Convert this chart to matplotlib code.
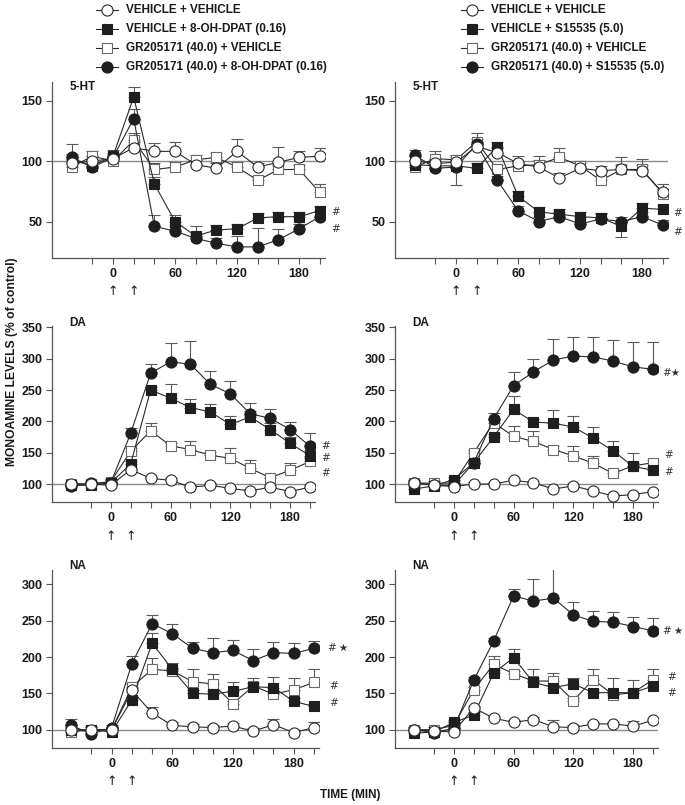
import matplotlib
matplotlib.use('Agg')
import matplotlib.pyplot as plt

plt.rcParams['font.family'] = ['Liberation Sans', 'DejaVu Sans']
plt.rcParams['font.weight'] = 'bold'

W, H = 685, 805
fig = plt.figure(figsize=(W / 100, H / 100), dpi=100)


def rect(l, t, w, h):
    return [l / W, 1 - (t + h) / H, w / W, h / H]


# ---------------- data ----------------
TIME = [-40, -20, 0, 20, 40, 60, 80, 100, 120, 140, 160, 180, 200]

LEGEND_LEFT = ['VEHICLE + VEHICLE', 'VEHICLE + 8-OH-DPAT (0.16)',
               'GR205171 (40.0) + VEHICLE', 'GR205171 (40.0) + 8-OH-DPAT (0.16)']
LEGEND_RIGHT = ['VEHICLE + VEHICLE', 'VEHICLE + S15535 (5.0)',
                'GR205171 (40.0) + VEHICLE', 'GR205171 (40.0) + S15535 (5.0)']

# 5-HT, left (8-OH-DPAT)
HT_L_VV = [98, 100, 102, 111, 108, 108, 97, 94, 108, 95, 99, 103, 104]
HT_L_VV_ERR = [4, 4, 4, 5, 7, 8, 4, 4, 10, 3, 13, 5, 7]
HT_L_AG = [101, 96, 104, 153, 81, 50, 38, 43, 44, 53, 54, 54, 59]
HT_L_AG_ERR = [5, 5, 5, 8, 6, 5, 8, 4, 4, 4, 4, 4, 4]
HT_L_GR = [95, 104, 100, 117, 93, 95, 101, 103, 95, 84, 93, 93, 74]
HT_L_GR_ERR = [4, 4, 4, 6, 5, 4, 4, 4, 4, 4, 4, 4, 7]
HT_L_CO = [103, 95, 103, 135, 46, 42, 36, 32, 29, 29, 35, 44, 54]
HT_L_CO_ERR = [11, 4, 4, 8, 9, 4, 4, 4, 9, 16, 9, 4, 4]

# 5-HT, right (S15535)
HT_R_VV = [100, 98, 99, 112, 107, 98, 95, 86, 94, 92, 93, 92, 74]
HT_R_VV_ERR = [4, 4, 4, 4, 4, 6, 9, 4, 4, 4, 10, 10, 7]
HT_R_AG = [97, 96, 96, 94, 112, 71, 58, 56, 54, 53, 46, 61, 60]
HT_R_AG_ERR = [4, 4, 4, 4, 4, 4, 4, 4, 4, 4, 4, 4, 4]
HT_R_AG_ERR_DN = [0, 0, 16, 0, 0, 0, 0, 0, 0, 0, 9, 0, 0]
HT_R_GR = [95, 102, 101, 116, 93, 96, 97, 103, 96, 84, 93, 93, 73]
HT_R_GR_ERR = [4, 6, 4, 7, 4, 4, 4, 8, 4, 4, 4, 4, 4]
HT_R_CO = [105, 94, 95, 114, 84, 59, 50, 54, 48, 52, 50, 54, 47]
HT_R_CO_ERR = [4, 4, 4, 4, 4, 4, 4, 4, 4, 4, 4, 4, 4]

# DA, left
DA_L_VV = [100, 100, 98, 123, 109, 106, 95, 98, 93, 89, 95, 88, 95]
DA_L_VV_ERR = [3, 3, 3, 3, 3, 3, 3, 3, 3, 3, 3, 3, 3]
DA_L_AG = [98, 98, 102, 132, 250, 237, 222, 215, 195, 207, 187, 165, 145]
DA_L_AG_ERR = [5, 5, 5, 5, 5, 22, 14, 12, 13, 10, 10, 10, 10]
DA_L_GR = [100, 100, 104, 152, 185, 161, 155, 146, 141, 125, 110, 122, 136]
DA_L_GR_ERR = [4, 4, 4, 5, 12, 5, 13, 5, 17, 14, 5, 12, 5]
DA_L_CO = [97, 101, 102, 181, 277, 295, 291, 259, 244, 212, 205, 187, 160]
DA_L_CO_ERR = [4, 4, 4, 9, 14, 30, 38, 22, 21, 18, 14, 12, 21]

# DA, right
DA_R_VV = [102, 98, 96, 100, 100, 106, 102, 92, 97, 89, 81, 83, 88]
DA_R_VV_ERR = [3, 3, 3, 3, 3, 3, 3, 3, 3, 3, 3, 3, 3]
DA_R_AG = [92, 97, 107, 134, 175, 219, 199, 197, 191, 173, 153, 128, 122]
DA_R_AG_ERR = [5, 5, 5, 5, 5, 22, 5, 21, 18, 18, 16, 21, 5]
DA_R_GR = [102, 101, 102, 150, 198, 176, 168, 155, 145, 133, 117, 129, 134]
DA_R_GR_ERR = [4, 4, 4, 5, 5, 17, 17, 5, 16, 11, 5, 5, 5]
DA_R_CO = [102, 98, 98, 134, 204, 257, 279, 298, 304, 303, 296, 287, 283]
DA_R_CO_ERR = [4, 4, 4, 5, 10, 21, 20, 33, 30, 31, 34, 39, 43]

# NA, left
NA_L_VV = [99, 100, 100, 154, 123, 106, 104, 103, 105, 98, 107, 96, 103]
NA_L_VV_ERR = [4, 4, 4, 4, 8, 4, 4, 4, 4, 4, 8, 4, 8]
NA_L_AG = [100, 100, 97, 141, 219, 183, 150, 149, 153, 159, 158, 139, 132]
NA_L_AG_ERR = [4, 4, 4, 4, 14, 9, 4, 4, 13, 12, 15, 4, 4]
NA_L_GR = [97, 100, 100, 159, 183, 181, 166, 163, 136, 160, 149, 155, 165]
NA_L_GR_ERR = [4, 4, 4, 4, 15, 4, 17, 14, 4, 4, 4, 16, 18]
NA_L_CO = [106, 94, 103, 191, 246, 232, 212, 206, 209, 195, 206, 205, 212]
NA_L_CO_ERR = [9, 4, 4, 10, 12, 13, 9, 20, 15, 16, 15, 14, 10]

# NA, right
NA_R_VV = [100, 98, 97, 130, 116, 110, 114, 104, 103, 108, 108, 105, 113]
NA_R_VV_ERR = [3, 3, 3, 3, 3, 3, 3, 10, 3, 3, 3, 7, 3]
NA_R_AG = [95, 97, 110, 120, 178, 199, 165, 158, 163, 151, 151, 151, 160]
NA_R_AG_ERR = [4, 4, 4, 4, 4, 12, 18, 4, 8, 4, 20, 17, 4]
NA_R_GR = [100, 100, 106, 155, 190, 177, 167, 167, 140, 169, 148, 151, 169]
NA_R_GR_ERR = [4, 4, 4, 4, 11, 4, 4, 11, 4, 14, 4, 4, 14]
NA_R_CO = [100, 96, 102, 168, 222, 284, 277, 281, 258, 249, 248, 242, 236]
NA_R_CO_ERR = [4, 4, 4, 4, 4, 10, 31, 44, 18, 15, 14, 13, 18]

# significance marks (x, y, text) in data units
HT_L_MARKS = [(211, 58, '#'), (211, 44, '#')]
HT_R_MARKS = [(210, 57, '#'), (210, 41, '#')]
DA_L_MARKS = [(211, 161, '#'), (211, 142, '#'), (211, 118, '#')]
DA_R_MARKS = [(209, 277, '#\u2605'), (211, 146, '#'), (211, 119, '#')]
NA_L_MARKS = [(214, 212, '#\u2009\u2605'), (215, 160, '#'), (215, 137, '#')]
NA_R_MARKS = [(210, 236, '#\u2009\u2605'), (214, 172, '#'), (214, 151, '#')]

# ---------------- styles ----------------
DARK = '#1e1e1e'
STY = {
    'vv': dict(marker='o', mfc='white', mec='#2a2a2a', ms=8.0),
    'ag': dict(marker='s', mfc=DARK, mec=DARK, ms=7.4),
    'gr': dict(marker='s', mfc='white', mec='#6a6a6a', ms=7.4),
    'co': dict(marker='o', mfc=DARK, mec=DARK, ms=8.0),
}
ORDER = ['gr', 'ag', 'co', 'vv']
TICK_FS = 9
TXT = '#1a1a1a'


def panel(r, ylim, yticks, label, series, marks, label_y):
    ax = fig.add_axes(rect(*r))
    ax.set_xlim(-59, 205)
    ax.set_ylim(*ylim)
    ax.axhline(100, color='#8a8a8a', lw=1.0, zorder=0)
    for key in ORDER:
        vals, up, dn = series[key]
        ax.errorbar(TIME, vals, yerr=[dn, up], fmt='none', ecolor='#5a5a5a',
                    elinewidth=0.8, capsize=4.5, capthick=0.8, zorder=1)
    for z, key in enumerate(ORDER):
        vals = series[key][0]
        ax.plot(TIME, vals, color='#2a2a2a', lw=0.8, mew=0.8, zorder=2 + z,
                **STY[key])
    for s in ('top', 'right'):
        ax.spines[s].set_visible(False)
    for s in ('left', 'bottom'):
        ax.spines[s].set_color('#555555')
        ax.spines[s].set_linewidth(0.9)
    xt = list(range(-20, 201, 20))
    ax.set_xticks(xt)
    ax.set_xticklabels([str(t) if t in (0, 60, 120, 180) else '' for t in xt])
    ax.set_yticks(yticks)
    ax.tick_params(direction='out', length=4, width=0.8, color='#555555',
                   labelsize=TICK_FS, labelcolor=TXT, pad=3)
    for lab in ax.get_xticklabels() + ax.get_yticklabels():
        lab.set_fontweight('bold')
    ax.text(0.065, label_y, label, transform=ax.transAxes, fontsize=8.5,
            fontweight='bold', color=TXT, va='center', ha='left')
    for x, y, t in marks:
        ax.text(x, y, t, fontsize=7.5, fontweight='normal', color='#333333',
                va='center', ha='left', family=['DejaVu Sans'], fontstyle='italic')
    # injection arrows at 0 and 20 min
    for t in (0, 20):
        ax.annotate('\u2191', xy=(t, 0), xycoords=('data', 'axes fraction'),
                    xytext=(0, -34), textcoords='offset pixels', ha='center',
                    va='center', fontsize=9, fontweight='normal',
                    family=['DejaVu Sans'], color=TXT)
    return ax


def ser(vv, vve, ag, age, gr, gre, co, coe, agdn=None):
    z = [0] * len(TIME)
    return {'vv': (vv, vve, z), 'ag': (ag, age, agdn if agdn else z),
            'gr': (gr, gre, z), 'co': (co, coe, z)}


panel((52, 82.4, 273, 175.4), (20, 165), [50, 100, 150], '5-HT',
      ser(HT_L_VV, HT_L_VV_ERR, HT_L_AG, HT_L_AG_ERR, HT_L_GR, HT_L_GR_ERR,
          HT_L_CO, HT_L_CO_ERR), HT_L_MARKS, 0.975)
panel((395, 82.4, 273, 175.4), (20, 165), [50, 100, 150], '5-HT',
      ser(HT_R_VV, HT_R_VV_ERR, HT_R_AG, HT_R_AG_ERR, HT_R_GR, HT_R_GR_ERR,
          HT_R_CO, HT_R_CO_ERR, HT_R_AG_ERR_DN), HT_R_MARKS, 0.975)
panel((52, 326.1, 263, 176.1), (71, 352), [100, 150, 200, 250, 300, 350], 'DA',
      ser(DA_L_VV, DA_L_VV_ERR, DA_L_AG, DA_L_AG_ERR, DA_L_GR, DA_L_GR_ERR,
          DA_L_CO, DA_L_CO_ERR), DA_L_MARKS, 1.02)
panel((395, 326.1, 263, 176.1), (71, 352), [100, 150, 200, 250, 300, 350], 'DA',
      ser(DA_R_VV, DA_R_VV_ERR, DA_R_AG, DA_R_AG_ERR, DA_R_GR, DA_R_GR_ERR,
          DA_R_CO, DA_R_CO_ERR), DA_R_MARKS, 1.02)
panel((52, 569.8, 267, 178.1), (75, 320), [100, 150, 200, 250, 300], 'NA',
      ser(NA_L_VV, NA_L_VV_ERR, NA_L_AG, NA_L_AG_ERR, NA_L_GR, NA_L_GR_ERR,
          NA_L_CO, NA_L_CO_ERR), NA_L_MARKS, 1.02)
panel((395, 569.8, 263, 178.1), (75, 320), [100, 150, 200, 250, 300], 'NA',
      ser(NA_R_VV, NA_R_VV_ERR, NA_R_AG, NA_R_AG_ERR, NA_R_GR, NA_R_GR_ERR,
          NA_R_CO, NA_R_CO_ERR), NA_R_MARKS, 1.02)

# ---------------- legends ----------------
legax = fig.add_axes([0, 0, 1, 1], facecolor='none')
legax.set_xlim(0, W)
legax.set_ylim(H, 0)
legax.axis('off')
ROWS = [10, 29, 48, 67]
for x0, labels in ((107, LEGEND_LEFT), (472, LEGEND_RIGHT)):
    for y, key, lab in zip(ROWS, ['vv', 'ag', 'gr', 'co'], labels):
        legax.plot([x0 - 11, x0 + 11], [y, y], color='#2a2a2a', lw=0.8)
        legax.plot([x0], [y], color='#2a2a2a', mew=0.8, **STY[key])
        legax.text(x0 + 19, y, lab, fontsize=8.5, fontweight='bold', color=TXT,
                   va='center', ha='left')

fig.text(12 / W, 1 - 362 / H, 'MONOAMINE LEVELS (% of control)', rotation=90,
         ha='center', va='center', fontsize=8.7, fontweight='bold', color=TXT)
fig.text(350 / W, 1 - 795 / H, 'TIME (MIN)', ha='center', va='center',
         fontsize=8.5, fontweight='bold', color=TXT)

fig.savefig('out.png', dpi=100)
